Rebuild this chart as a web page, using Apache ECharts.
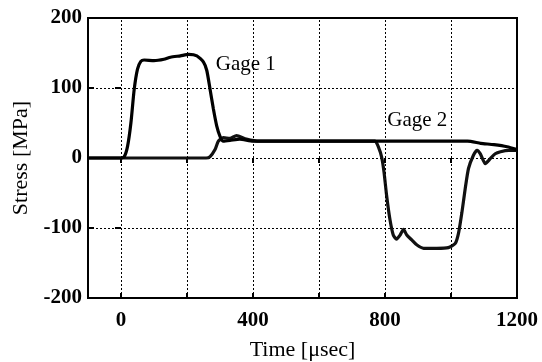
<!DOCTYPE html>
<html>
<head>
<meta charset="utf-8">
<script src="https://cdn.jsdelivr.net/npm/echarts@6/dist/echarts.min.js"></script>
<style>
    html, body { margin: 0; padding: 0; background: #fff; }
    #chart { width: 542px; height: 362px; }
</style>
</head>
<body>
<div id="chart"></div>
<script>
// Gage 1 stress history (time in usec, stress in MPa)
const gage1Time = [-100, 0, 10, 20, 30, 40, 50, 60, 70, 100, 130, 150, 180, 205, 230, 250, 260, 270, 280, 290, 300, 310, 330, 360, 400, 500, 600, 700, 800, 900, 1000, 1050, 1090, 1130, 1170, 1200]
const gage1Stress = [0, 0, 2, 17, 50, 98, 127, 138, 140, 139, 141, 144, 146, 148, 146, 137, 125, 98, 70, 46, 31, 24, 25, 27, 24, 24, 24, 24, 24, 24, 24, 24, 21, 19, 16, 12]

// Gage 2 stress history
const gage2Time = [-100, 250, 258, 270, 285, 295, 310, 330, 350, 380, 420, 500, 600, 700, 760, 770, 780, 790, 797, 805, 815, 825, 835, 846, 856, 866, 881, 896, 917, 957, 992, 1013, 1023, 1033, 1043, 1053, 1068, 1079, 1089, 1104, 1119, 1134, 1150, 1175, 1200]
const gage2Stress = [0, 0, 0, 2, 12, 24, 29, 28, 32, 27, 24, 24, 24, 24, 24, 24, 16, 1, -20, -54, -88, -110, -116, -110, -102, -110, -117, -124, -129, -129, -128, -122, -107, -78, -44, -15, 4, 11, 6, -8, -1, 6, 9, 11, 11]

// axis ticks
const xTicks = [0, 200, 400, 600, 800, 1000]
const xLabels = [0, 400, 800, 1200]

const pairs = (xs, ys) => xs.map((x, i) => [x, ys[i]])

const chart = echarts.init(document.getElementById('chart'))

const font = 'Liberation Serif'
const dottedStyle = { color: '#000', type: [2, 2], width: 1 }
const tickStyle = { color: '#000', width: 2 }

const option = {
    backgroundColor: '#fff',
    animation: false,
    grid: {
        left: 88,
        right: 25,
        top: 18,
        bottom: 64,
        outerBoundsMode: 'none',
        containLabel: false,
        show: true,
        borderColor: '#000',
        borderWidth: 2
    },
    xAxis: [
        {
            type: 'value',
            min: -100,
            max: 1200,
            axisLine: { show: true, onZero: false, lineStyle: { color: '#000', width: 2 } },
            axisTick: { show: true, inside: true, length: 5, customValues: xTicks, lineStyle: tickStyle },
            axisLabel: {
                customValues: xLabels,
                formatter: v => String(v),
                margin: 12,
                color: '#000',
                fontFamily: font,
                fontWeight: 'bold',
                fontSize: 21
            },
            splitLine: { show: false },
            name: 'Time [\u03bcsec]',
            nameLocation: 'middle',
            nameGap: 41,
            nameTextStyle: { color: '#000', fontFamily: font, fontSize: 22 }
        },
        {
            type: 'value',
            position: 'top',
            min: -100,
            max: 1200,
            axisLine: { show: false },
            axisTick: { show: true, inside: true, length: 5, customValues: xTicks, lineStyle: tickStyle },
            axisLabel: { show: false },
            splitLine: { show: false }
        }
    ],
    yAxis: [
        {
            type: 'value',
            min: -200,
            max: 200,
            interval: 100,
            axisLine: { show: true, onZero: false, lineStyle: { color: '#000', width: 2 } },
            axisTick: { show: true, inside: true, length: 6, lineStyle: tickStyle },
            axisLabel: {
                margin: 6,
                color: '#000',
                fontFamily: font,
                fontWeight: 'bold',
                fontSize: 21
            },
            splitLine: { show: true, lineStyle: dottedStyle },
            name: 'Stress [MPa]',
            nameLocation: 'middle',
            nameGap: 54,
            nameTextStyle: { color: '#000', fontFamily: font, fontSize: 22 }
        },
        {
            type: 'value',
            position: 'right',
            min: -200,
            max: 200,
            interval: 100,
            axisLine: { show: false },
            axisTick: { show: true, inside: true, length: 6, lineStyle: tickStyle },
            axisLabel: { show: false },
            splitLine: { show: false }
        }
    ],
    series: [
        {
            // vertical dotted grid lines
            type: 'line',
            data: [],
            markLine: {
                silent: true,
                symbol: 'none',
                label: { show: false },
                lineStyle: dottedStyle,
                data: xTicks.map(v => ({ xAxis: v }))
            }
        },
        {
            name: 'Gage 2',
            type: 'line',
            data: pairs(gage2Time, gage2Stress),
            showSymbol: false,
            smooth: 0.2,
            lineStyle: { color: '#111', width: 3.2 },
            markPoint: {
                symbol: 'circle',
                symbolSize: 0,
                label: {
                    show: true,
                    formatter: 'Gage 2',
                    color: '#000',
                    fontFamily: font,
                    fontSize: 21
                },
                data: [{ coord: [898, 53] }]
            }
        },
        {
            name: 'Gage 1',
            type: 'line',
            data: pairs(gage1Time, gage1Stress),
            showSymbol: false,
            smooth: 0.2,
            lineStyle: { color: '#000', width: 3.2 },
            markPoint: {
                symbol: 'circle',
                symbolSize: 0,
                label: {
                    show: true,
                    formatter: 'Gage 1',
                    color: '#000',
                    fontFamily: font,
                    fontSize: 21
                },
                data: [{ coord: [378, 133] }]
            }
        }
    ]
}

chart.setOption(option)
</script>
</body>
</html>
